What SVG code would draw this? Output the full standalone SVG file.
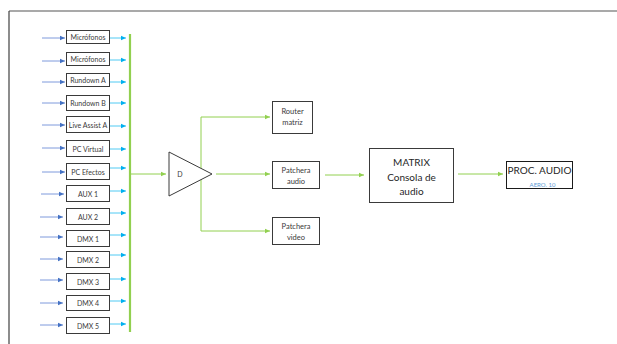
<svg xmlns="http://www.w3.org/2000/svg" width="617" height="344" viewBox="0 0 617 344">
  <defs>
    <marker id="ahBlue" markerWidth="6" markerHeight="6" refX="5" refY="3" orient="auto" markerUnits="userSpaceOnUse">
      <path d="M0,0.8 L5,3 L0,5.2 Z" fill="#4472C4"/>
    </marker>
    <marker id="ahCyan" markerWidth="6" markerHeight="6" refX="5" refY="3" orient="auto" markerUnits="userSpaceOnUse">
      <path d="M0,0.8 L5,3 L0,5.2 Z" fill="#00B0F0"/>
    </marker>
    <marker id="ahGreen" markerWidth="6" markerHeight="6" refX="5" refY="3" orient="auto" markerUnits="userSpaceOnUse">
      <path d="M0,0.8 L5,3 L0,5.2 Z" fill="#92D050"/>
    </marker>
  </defs>
  <style>
    .box { fill: #ffffff; stroke: #3a3a3a; stroke-width: 1; }
    .lbl { font-family: Lato, "Open Sans", "Liberation Sans", sans-serif; fill: #3a3a3a; text-anchor: middle; dominant-baseline: central; }
    .small { font-size: 7px; }
    .mid { font-size: 7.5px; }
    .big { font-size: 10px; fill: #262626; }
    .inBlue { stroke: #6f8fd8; stroke-width: 0.9; fill: none; marker-end: url(#ahBlue); }
    .outCyan { stroke: #3cc4f2; stroke-width: 0.9; fill: none; marker-end: url(#ahCyan); }
    .grn { stroke: #92D050; stroke-width: 1; fill: none; }
    .grnA { stroke: #92D050; stroke-width: 1; fill: none; marker-end: url(#ahGreen); }
  </style>

  <rect x="0" y="0" width="617" height="344" fill="#ffffff"/>

  <!-- page frame -->
  <line x1="9" y1="11" x2="617" y2="11" stroke="#8c8c8c" stroke-width="1.5"/>
  <line x1="9" y1="11" x2="9" y2="344" stroke="#404040" stroke-width="1.2"/>

  <!-- connectors -->
  <g id="connectors">
    <line class="inBlue" x1="42" y1="38" x2="65" y2="38"/>
    <line class="inBlue" x1="42" y1="61" x2="65" y2="61"/>
    <line class="inBlue" x1="42" y1="82" x2="65" y2="82"/>
    <line class="inBlue" x1="42" y1="103" x2="65" y2="103"/>
    <line class="inBlue" x1="42" y1="125" x2="65" y2="125"/>
    <line class="inBlue" x1="42" y1="148" x2="65" y2="148"/>
    <line class="inBlue" x1="42" y1="172" x2="65" y2="172"/>
    <line class="inBlue" x1="41" y1="194" x2="64" y2="194"/>
    <line class="inBlue" x1="40" y1="217" x2="63" y2="217"/>
    <line class="inBlue" x1="40" y1="237" x2="63" y2="237"/>
    <line class="inBlue" x1="40" y1="259" x2="63" y2="259"/>
    <line class="inBlue" x1="40" y1="280" x2="63" y2="280"/>
    <line class="inBlue" x1="40" y1="303" x2="63" y2="303"/>
    <line class="inBlue" x1="40" y1="325" x2="63" y2="325"/>

    <line class="outCyan" x1="110" y1="38" x2="126" y2="38"/>
    <line class="outCyan" x1="110" y1="60" x2="126" y2="60"/>
    <line class="outCyan" x1="110" y1="82" x2="126" y2="82"/>
    <line class="outCyan" x1="110" y1="103" x2="126" y2="103"/>
    <line class="outCyan" x1="110" y1="126" x2="126" y2="126"/>
    <line class="outCyan" x1="110" y1="149" x2="126" y2="149"/>
    <line class="outCyan" x1="110" y1="168" x2="126" y2="168"/>
    <line class="outCyan" x1="110" y1="191" x2="126" y2="191"/>
    <line class="outCyan" x1="110" y1="213" x2="126" y2="213"/>
    <line class="outCyan" x1="110" y1="235" x2="126" y2="235"/>
    <line class="outCyan" x1="110" y1="255" x2="126" y2="255"/>
    <line class="outCyan" x1="110" y1="279" x2="126" y2="279"/>
    <line class="outCyan" x1="110" y1="301" x2="126" y2="301"/>
    <line class="outCyan" x1="110" y1="324" x2="126" y2="324"/>

    <!-- collector bus -->
    <line x1="130" y1="34" x2="130" y2="332" stroke="#92D050" stroke-width="2.2"/>

    <line class="grnA" x1="131" y1="174" x2="166" y2="174"/>
    <line class="grn" x1="201" y1="117" x2="201" y2="231"/>
    <line class="grnA" x1="201" y1="117" x2="270" y2="117"/>
    <line class="grnA" x1="216" y1="174" x2="270" y2="174"/>
    <line class="grnA" x1="201" y1="231" x2="270" y2="231"/>
    <line class="grnA" x1="325" y1="175" x2="364" y2="175"/>
    <line class="grnA" x1="458" y1="174" x2="503" y2="174"/>
  </g>

  <!-- sources -->
  <g id="src-microfonos-1"><rect class="box" x="66.5" y="30.5" width="43" height="13"/><text class="lbl small" x="88" y="37">Micrófonos</text></g>
  <g id="src-microfonos-2"><rect class="box" x="66.5" y="52.5" width="43" height="13"/><text class="lbl small" x="88" y="59">Micrófonos</text></g>
  <g id="src-rundown-a"><rect class="box" x="66.5" y="73.5" width="43" height="13"/><text class="lbl small" x="88" y="80">Rundown A</text></g>
  <g id="src-rundown-b"><rect class="box" x="66.5" y="95.5" width="43" height="15"/><text class="lbl small" x="88" y="103">Rundown B</text></g>
  <g id="src-live-assist"><rect class="box" x="66.5" y="116.5" width="43" height="16"/><text class="lbl small" x="88" y="125">Live Assist A</text></g>
  <g id="src-pc-virtual"><rect class="box" x="66.5" y="140.5" width="43" height="16"/><text class="lbl small" x="88" y="148.5">PC Virtual</text></g>
  <g id="src-pc-efectos"><rect class="box" x="66.5" y="163.5" width="43" height="16"/><text class="lbl small" x="88" y="171.5">PC Efectos</text></g>
  <g id="src-aux-1"><rect class="box" x="66.5" y="185.5" width="43" height="16"/><text class="lbl small" x="88" y="193.5">AUX 1</text></g>
  <g id="src-aux-2"><rect class="box" x="66.5" y="208.5" width="43" height="16"/><text class="lbl small" x="88" y="216.5">AUX 2</text></g>
  <g id="src-dmx-1"><rect class="box" x="66.5" y="230.5" width="43" height="16"/><text class="lbl small" x="88" y="238.5">DMX 1</text></g>
  <g id="src-dmx-2"><rect class="box" x="66.5" y="251.5" width="43" height="16"/><text class="lbl small" x="88" y="259.5">DMX 2</text></g>
  <g id="src-dmx-3"><rect class="box" x="66.5" y="273.5" width="43" height="16"/><text class="lbl small" x="88" y="281.5">DMX 3</text></g>
  <g id="src-dmx-4"><rect class="box" x="66.5" y="295.5" width="43" height="15"/><text class="lbl small" x="88" y="303">DMX 4</text></g>
  <g id="src-dmx-5"><rect class="box" x="66.5" y="317.5" width="43" height="16"/><text class="lbl small" x="88" y="325.5">DMX 5</text></g>

  <!-- distribution amplifier -->
  <g id="distribuidor">
    <polygon points="169,152 169,196 212,174" fill="#ffffff" stroke="#3a3a3a" stroke-width="1"/>
    <text class="lbl small" x="180" y="174">D</text>
  </g>

  <g id="router-matriz"><rect class="box" x="272.5" y="101.5" width="40" height="32"/><text class="lbl mid" x="292.5" y="111.5">Router</text><text class="lbl mid" x="292.5" y="122">matriz</text></g>
  <g id="patchera-audio"><rect class="box" x="272.5" y="161.5" width="47" height="27"/><text class="lbl mid" x="296" y="170">Patchera</text><text class="lbl mid" x="296" y="181">audio</text></g>
  <g id="patchera-video"><rect class="box" x="272.5" y="217.5" width="47" height="27"/><text class="lbl mid" x="296" y="226">Patchera</text><text class="lbl mid" x="296" y="237">video</text></g>

  <g id="matrix"><rect class="box" x="369.5" y="148.5" width="84" height="54"/>
    <text class="lbl big" x="411.5" y="162">MATRIX</text>
    <text class="lbl big" x="411.5" y="176.5">Consola de</text>
    <text class="lbl big" x="411.5" y="191">audio</text>
  </g>

  <g id="proc-audio"><rect x="506.5" y="161.5" width="66" height="27" fill="#ffffff" stroke="#1a1a1a" stroke-width="1"/>
    <text class="lbl big" x="539.5" y="170">PROC. AUDIO</text>
    <text class="lbl" x="542.5" y="184" font-size="6" style="fill:#5B9BD5">AERO. 10</text>
  </g>
</svg>
